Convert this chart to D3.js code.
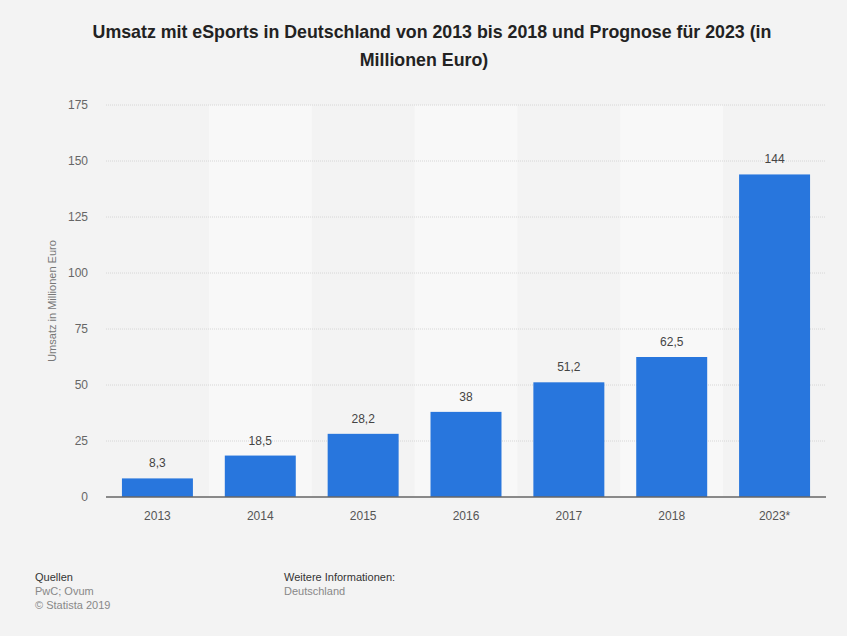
<!DOCTYPE html>
<html>
<head>
<meta charset="utf-8">
<script src="https://cdn.jsdelivr.net/npm/d3@7"></script>
<style>
  html, body { margin: 0; padding: 0; background: #f3f3f3; }
  svg { display: block; font-family: "Liberation Sans", Arial, sans-serif; }
</style>
</head>
<body>
<svg id="chart" width="847" height="636"></svg>
<script>
// Umsatz mit eSports in Deutschland (Mio. Euro)
const categories = ["2013", "2014", "2015", "2016", "2017", "2018", "2023*"];
const values = [8.3, 18.5, 28.2, 38, 51.2, 62.5, 144];
const valueLabels = ["8,3", "18,5", "28,2", "38", "51,2", "62,5", "144"];
const yTicks = [0, 25, 50, 75, 100, 125, 150, 175];

const svg = d3.select("#chart");
const W = 847, H = 636;
const margin = { left: 106, right: 21, top: 105, bottom: 139 };
const plotW = W - margin.left - margin.right;
const plotH = H - margin.top - margin.bottom;

svg.append("rect").attr("width", W).attr("height", H).attr("fill", "#f3f3f3");

// Title
const title = svg.append("text")
  .attr("x", W / 2).attr("text-anchor", "middle")
  .attr("font-size", 17.8).attr("font-weight", "bold").attr("fill", "#222");
title.append("tspan").attr("x", 432).attr("y", 38)
  .text("Umsatz mit eSports in Deutschland von 2013 bis 2018 und Prognose für 2023 (in");
title.append("tspan").attr("x", 424).attr("y", 66).text("Millionen Euro)");

const g = svg.append("g").attr("transform", `translate(${margin.left},${margin.top})`);

const x = d3.scaleBand().domain(categories).range([0, plotW]).paddingInner(0.31).paddingOuter(0.155);
const xBand = d3.scaleBand().domain(categories).range([0, plotW]);
const y = d3.scaleLinear().domain([0, 175]).range([plotH, 0]);

// Alternating column shading
g.selectAll("rect.band")
  .data(categories.filter((d, i) => i % 2 === 1))
  .join("rect")
  .attr("class", "band")
  .attr("x", d => xBand(d))
  .attr("y", 0)
  .attr("width", xBand.bandwidth())
  .attr("height", plotH)
  .attr("fill", "#f8f8f8");

// Grid lines
g.selectAll("line.grid")
  .data(yTicks.filter(t => t > 0))
  .join("line")
  .attr("class", "grid")
  .attr("x1", 0).attr("x2", plotW)
  .attr("y1", d => y(d)).attr("y2", d => y(d))
  .attr("stroke", "#d6d6d6")
  .attr("stroke-width", 1)
  .attr("stroke-dasharray", "1,1");

// Y axis labels
const yAxis = d3.axisLeft(y).tickValues(yTicks).tickSize(0).tickPadding(18);
const yg = g.append("g").call(yAxis);
yg.select(".domain").remove();
yg.selectAll("text").attr("font-size", 12).attr("fill", "#666")
  .attr("font-family", "Liberation Sans, Arial, sans-serif");

// Y axis title
svg.append("text")
  .attr("transform", `translate(56,${margin.top + plotH / 2}) rotate(-90)`)
  .attr("text-anchor", "middle")
  .attr("font-size", 11).attr("fill", "#777")
  .text("Umsatz in Millionen Euro");

// Bars
g.selectAll("rect.bar")
  .data(values)
  .join("rect")
  .attr("class", "bar")
  .attr("x", (d, i) => x(categories[i]))
  .attr("y", d => y(d))
  .attr("width", x.bandwidth())
  .attr("height", d => plotH - y(d))
  .attr("fill", "#2876dd");

// Value labels
g.selectAll("text.val")
  .data(values)
  .join("text")
  .attr("class", "val")
  .attr("x", (d, i) => x(categories[i]) + x.bandwidth() / 2)
  .attr("y", d => y(d) - 11)
  .attr("text-anchor", "middle")
  .attr("font-size", 12).attr("fill", "#444")
  .text((d, i) => valueLabels[i]);

// Baseline
g.append("line")
  .attr("x1", 0).attr("x2", plotW)
  .attr("y1", y(0)).attr("y2", y(0))
  .attr("stroke", "#666").attr("stroke-width", 1.5);

// X axis labels
const xAxis = d3.axisBottom(x).tickSize(0).tickPadding(14);
const xg = g.append("g").attr("transform", `translate(0,${plotH})`).call(xAxis);
xg.select(".domain").remove();
xg.selectAll("text").attr("font-size", 12).attr("fill", "#555")
  .attr("font-family", "Liberation Sans, Arial, sans-serif");

// Footer
const foot = svg.append("g").attr("font-size", 11);
foot.append("text").attr("x", 35).attr("y", 581).attr("fill", "#333").text("Quellen");
foot.append("text").attr("x", 35).attr("y", 595).attr("fill", "#888").text("PwC; Ovum");
foot.append("text").attr("x", 35).attr("y", 609).attr("fill", "#888").text("© Statista 2019");
foot.append("text").attr("x", 284).attr("y", 581).attr("fill", "#333").text("Weitere Informationen:");
foot.append("text").attr("x", 284).attr("y", 595).attr("fill", "#888").text("Deutschland");
</script>
</body>
</html>
